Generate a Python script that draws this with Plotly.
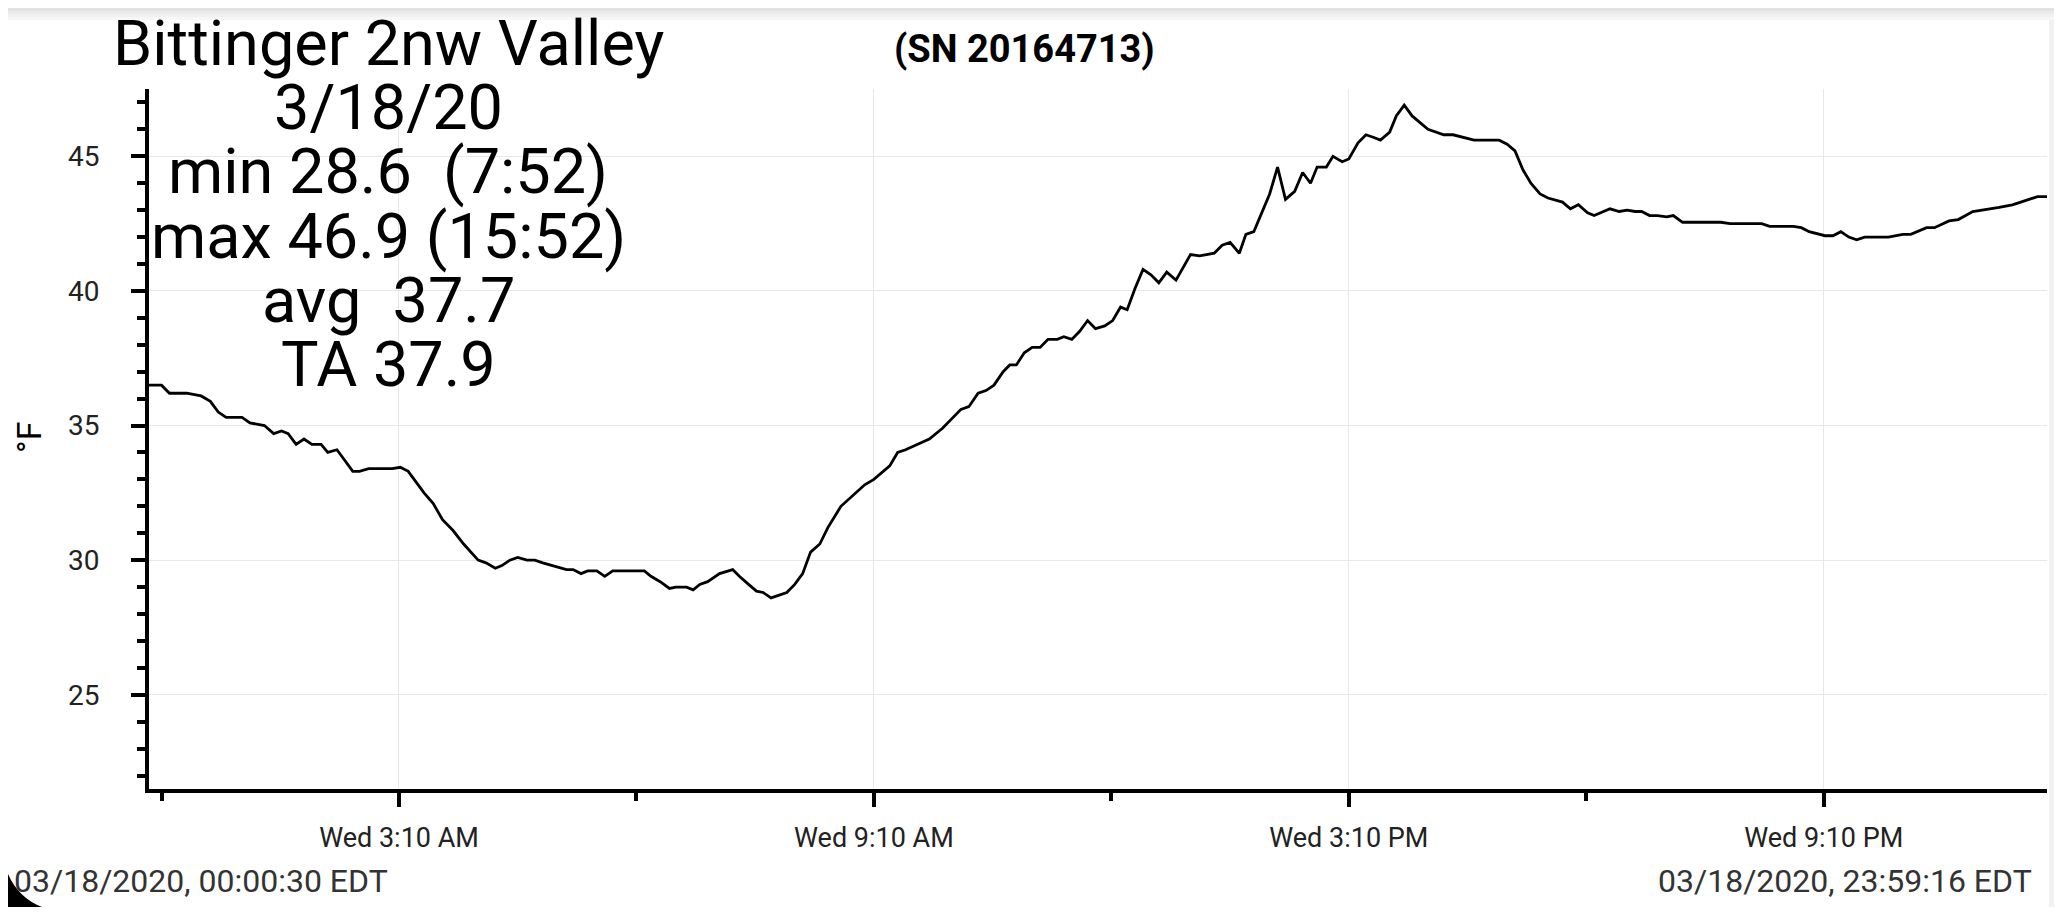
import plotly.graph_objects as go

# logger readings (time of day, deg F)
TIMES = ["00:00:30", "00:10", "00:16", "00:29", "00:40", "00:47", "00:53", "00:59", "01:11", "01:17",
         "01:28", "01:35", "01:41", "01:46", "01:52", "01:58", "02:04", "02:11", "02:16", "02:23",
         "02:35", "02:40", "02:47", "03:05", "03:11", "03:17", "03:23", "03:29", "03:36", "03:43",
         "03:51", "03:59", "04:10", "04:16", "04:23", "04:28", "04:34", "04:40", "04:47", "04:53",
         "04:59", "05:17", "05:22", "05:28", "05:33", "05:40", "05:46", "05:52", "06:16", "06:21",
         "06:28", "06:35", "06:40", "06:48", "06:53", "06:58", "07:04", "07:13", "07:23", "07:28",
         "07:35", "07:41", "07:46", "07:52", "08:04", "08:10", "08:16", "08:22", "08:29", "08:35",
         "08:45", "08:52", "09:03", "09:10", "09:22", "09:28", "09:34", "09:52", "10:02", "10:16",
         "10:22", "10:29", "10:35", "10:41", "10:48", "10:53", "10:58", "11:04", "11:10", "11:16",
         "11:22", "11:29", "11:34", "11:40", "11:46", "11:52", "11:58", "12:05", "12:11", "12:17",
         "12:22", "12:28", "12:34", "12:40", "12:46", "12:52", "12:59", "13:10", "13:17", "13:28",
         "13:34", "13:40", "13:47", "13:52", "13:58", "14:04", "14:10", "14:16", "14:22", "14:29",
         "14:35", "14:41", "14:46", "14:53", "14:58", "15:05", "15:10", "15:17", "15:23", "15:29",
         "15:34", "15:41", "15:46", "15:52", "15:58", "16:10", "16:16", "16:22", "16:29", "16:45",
         "17:04", "17:10", "17:16", "17:22", "17:28", "17:35", "17:41", "17:52", "17:58", "18:04",
         "18:11", "18:16", "18:28", "18:35", "18:41", "18:47", "18:52", "18:58", "19:04", "19:11",
         "19:16", "19:23", "19:52", "19:59", "20:23", "20:29", "20:47", "20:53", "20:59", "21:11",
         "21:17", "21:23", "21:29", "21:35", "21:41", "21:59", "22:10", "22:16", "22:28", "22:34",
         "22:45", "22:52", "23:03", "23:11", "23:16", "23:23", "23:33", "23:46", "23:52", "23:59:16"]

TEMPS = [36.5, 36.5, 36.2, 36.2, 36.1, 35.9, 35.5, 35.3, 35.3, 35.1,
         35.0, 34.7, 34.8, 34.7, 34.3, 34.5, 34.3, 34.3, 34.0, 34.1,
         33.3, 33.3, 33.4, 33.4, 33.45, 33.3, 32.9, 32.5, 32.1, 31.5,
         31.1, 30.6, 30.0, 29.9, 29.7, 29.8, 30.0, 30.1, 30.0, 30.0,
         29.9, 29.65, 29.65, 29.5, 29.6, 29.6, 29.4, 29.6, 29.6, 29.4,
         29.2, 28.95, 29.0, 29.0, 28.9, 29.1, 29.2, 29.5, 29.65, 29.4,
         29.1, 28.85, 28.8, 28.6, 28.8, 29.1, 29.5, 30.3, 30.6, 31.2,
         32.0, 32.3, 32.8, 33.0, 33.5, 34.0, 34.1, 34.5, 34.9, 35.6,
         35.7, 36.2, 36.3, 36.5, 37.0, 37.25, 37.25, 37.7, 37.9, 37.9,
         38.2, 38.2, 38.3, 38.2, 38.5, 38.9, 38.6, 38.7, 38.9, 39.4,
         39.3, 40.1, 40.8, 40.6, 40.3, 40.7, 40.4, 41.35, 41.3, 41.4,
         41.7, 41.8, 41.4, 42.1, 42.2, 42.9, 43.6, 44.6, 43.4, 43.7,
         44.4, 44.0, 44.6, 44.6, 45.0, 44.8, 44.9, 45.5, 45.8, 45.7,
         45.6, 45.9, 46.5, 46.9, 46.5, 46.0, 45.9, 45.8, 45.8, 45.6,
         45.6, 45.45, 45.2, 44.5, 44.0, 43.6, 43.45, 43.3, 43.05, 43.2,
         42.9, 42.8, 43.05, 42.95, 43.0, 42.95, 42.95, 42.8, 42.8, 42.75,
         42.8, 42.55, 42.55, 42.5, 42.5, 42.4, 42.4, 42.35, 42.2, 42.05,
         42.05, 42.2, 42.0, 41.9, 42.0, 42.0, 42.1, 42.1, 42.35, 42.35,
         42.6, 42.65, 42.95, 43.0, 43.05, 43.1, 43.2, 43.4, 43.5, 43.5]

DAY = "2020-03-18"
STATION = "Bittinger 2nw Valley"
SERIAL = "(SN 20164713)"
SUMMARY = ["3/18/20", "min 28.6  (7:52)", "max 46.9 (15:52)", "avg  37.7", "TA 37.9"]
FIRST_STAMP = "03/18/2020, 00:00:30 EDT"
LAST_STAMP = "03/18/2020, 23:59:16 EDT"

# page body keeps an 8px margin, so the figure is the window minus that
W, H = 2046, 899
L, R, T, B = 141, 7, 81, 118
PW, PH = W - L - R, H - T - B


def px(x):
    # figure pixel column -> paper x
    return (x - L) / PW


def py(y):
    # figure pixel row -> paper y
    return (H - B - y) / PH


x_vals = []
for t in TIMES:
    if len(t) == 5:
        t = t + ":00"
    x_vals.append("{} {}".format(DAY, t))

fig = go.Figure()
fig.add_trace(go.Scatter(x=x_vals, y=TEMPS, mode="lines",
                         line=dict(color="#000000", width=2.8),
                         hoverinfo="x+y", showlegend=False))

fig.update_xaxes(range=[x_vals[0], x_vals[-1]],
                 showline=True, linewidth=4, linecolor="#000000",
                 ticks="outside", ticklen=14, tickwidth=4, tickcolor="#000000",
                 tick0=DAY + " 03:10:00", dtick=6 * 3600 * 1000,
                 tickformat="%a %-I:%M %p", ticklabelstandoff=8,
                 tickfont=dict(family="Roboto", size=27, color="#222222"),
                 showgrid=True, gridcolor="#e8e8e8", gridwidth=1,
                 minor=dict(ticks="outside", ticklen=8, tickwidth=4, tickcolor="#000000",
                            tick0=DAY + " 00:10:00", dtick=3 * 3600 * 1000, showgrid=False),
                 zeroline=False)

fig.update_yaxes(range=[21.5, 47.5],
                 showline=True, linewidth=4, linecolor="#000000",
                 ticks="outside", ticklen=14, tickwidth=4, tickcolor="#000000",
                 tick0=0, dtick=5, ticklabelstandoff=26,
                 tickfont=dict(family="Roboto", size=28, color="#222222"),
                 showgrid=True, gridcolor="#e8e8e8", gridwidth=1,
                 minor=dict(ticks="outside", ticklen=8, tickwidth=4, tickcolor="#000000",
                            dtick=1, showgrid=False),
                 zeroline=False)

annotations = []
lines = [STATION] + SUMMARY
for i, txt in enumerate(lines):
    base = 58 + 64.4 * i
    annotations.append(dict(text=txt, x=px(380), y=py(base - 23), xref="paper", yref="paper",
                            xanchor="center", yanchor="middle", showarrow=False,
                            font=dict(family="Roboto", size=63, color="#000000")))

annotations.append(dict(text="<b>" + SERIAL + "</b>", x=px(1016), y=py(41), xref="paper", yref="paper",
                        xanchor="center", yanchor="middle", showarrow=False,
                        font=dict(family="Roboto", size=38, color="#000000")))
annotations.append(dict(text="°F", x=px(21), y=py(429), xref="paper", yref="paper",
                        xanchor="center", yanchor="middle", showarrow=False, textangle=-90,
                        font=dict(family="Roboto", size=34, color="#000000")))
annotations.append(dict(text=FIRST_STAMP, x=px(4), y=py(873), xref="paper", yref="paper",
                        xanchor="left", yanchor="middle", showarrow=False,
                        font=dict(family="Roboto", size=32, color="#333333")))
annotations.append(dict(text=LAST_STAMP, x=px(2026), y=py(873), xref="paper", yref="paper",
                        xanchor="right", yanchor="middle", showarrow=False,
                        font=dict(family="Roboto", size=32, color="#333333")))

# screen edges from the original capture
shapes = []
for k, c in enumerate(["#e2e2e2", "#eaeaea", "#f1f1f1", "#f7f7f7"]):
    shapes.append(dict(type="rect", xref="paper", yref="paper", x0=px(0), x1=px(W),
                       y0=py(3 * (k + 1)), y1=py(3 * k), fillcolor=c, line=dict(width=0), layer="below"))
shapes.append(dict(type="rect", xref="paper", yref="paper", x0=px(2041), x1=px(W),
                   y0=py(H), y1=py(12), fillcolor="#f1f1f1", line=dict(width=0)))
# rounded black screen corner, bottom left
shapes.append(dict(type="path", xref="paper", yref="paper",
                   path="M {0},{1} L {0},{2} Q {3},{4} {5},{1} Z".format(
                       px(0), py(H), py(866), px(10.6), py(890), px(34)),
                   fillcolor="#000000", line=dict(width=0)))

fig.update_layout(width=W, height=H, margin=dict(l=L, r=R, t=T, b=B),
                  plot_bgcolor="#ffffff", paper_bgcolor="#ffffff",
                  annotations=annotations, shapes=shapes, showlegend=False)

fig.write_html("out.html")
